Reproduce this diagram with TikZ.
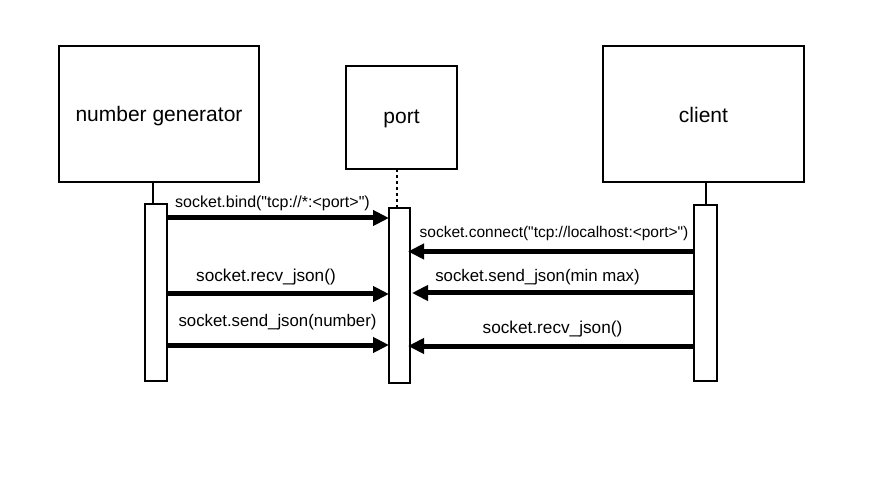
\documentclass[tikz,border=0pt]{standalone}
\usepackage{fontspec}
\setmainfont{Liberation Sans}
\newfontfamily\lblfont{Liberation Sans}
\usetikzlibrary{arrows.meta}
\begin{document}
\begin{tikzpicture}[x=1pt,y=-1pt,
  lifebox/.style={draw,line width=2pt,inner sep=0pt,outer sep=0pt,text depth=0pt,font=\lblfont\fontsize{21}{25}\selectfont},
  actbar/.style={draw,line width=2pt,inner sep=0pt,outer sep=0pt,minimum width=22pt,fill=white},
  lifeline/.style={line width=2pt},
  msg/.style={line width=5pt,-{Triangle[length=16pt,width=15pt]}},
  lbl/.style={anchor=base,inner sep=0pt,font=\lblfont\fontsize{#1}{19}\selectfont},
  lbl/.default=16]
\useasboundingbox (0,0) rectangle (872,502);
\fill[white] (0,0) rectangle (872,502);
% participants
\node[lifebox,minimum width=200pt,minimum height=136pt,text height=16pt] (ng) at (159,114) {number generator};
\node[lifebox,minimum width=111pt,minimum height=103pt,text height=13pt] (port) at (401.5,117.5) {port};
\node[lifebox,minimum width=201pt,minimum height=136pt,text height=18pt] (cl) at (703.5,114) {client};
% activation bars
\node[actbar,minimum height=177pt] (ngbar) at (156,292.5) {};
\node[actbar,minimum width=21pt,minimum height=175pt] (pbar) at (399.5,295.5) {};
\node[actbar,minimum width=23pt,minimum height=176pt] (cbar) at (705.5,293) {};
% lifelines
\draw[lifeline] ([xshift=-3pt]ngbar.north) -- ([xshift=-3pt]ngbar.north |- ng.south);
\draw[lifeline,dash pattern=on 3pt off 3pt] ([xshift=-2.5pt]pbar.north) -- ([xshift=-2.5pt]pbar.north |- port.south);
\draw[lifeline] (cbar.north) -- (cbar.north |- cl.south);
% messages
\draw[msg] (ngbar.east |- 0,218) -- (pbar.west |- 0,218);
\draw[msg] (ngbar.east |- 0,294) -- (pbar.west |- 0,294);
\draw[msg] (ngbar.east |- 0,345) -- (pbar.west |- 0,345);
\draw[msg,shorten >=-2pt] (cbar.west |- 0,251.5) -- (pbar.east |- 0,251.5);
\draw[msg,shorten >=2pt] (cbar.west |- 0,293) -- (pbar.east |- 0,293);
\draw[msg,shorten >=-2pt] (cbar.west |- 0,346) -- (pbar.east |- 0,346);
% labels
\node[lbl=16] (l1) at (272.5,208) {socket.bind("tcp://*:<port>")};
\node[lbl=17.2] (l2) at (266,281.5) {socket.recv\_json()};
\node[lbl=16.8] (l3) at (277.5,326.5) {socket.send\_json(number)};
\node[lbl=15.5] (l4) at (554,237.5) {socket.connect("tcp://localhost:<port>")};
\node[lbl=16.8] (l5) at (537.5,281.5) {socket.send\_json(min max)};
\node[lbl=17.2] (l6) at (552.5,334) {socket.recv\_json()};
\end{tikzpicture}
\end{document}
